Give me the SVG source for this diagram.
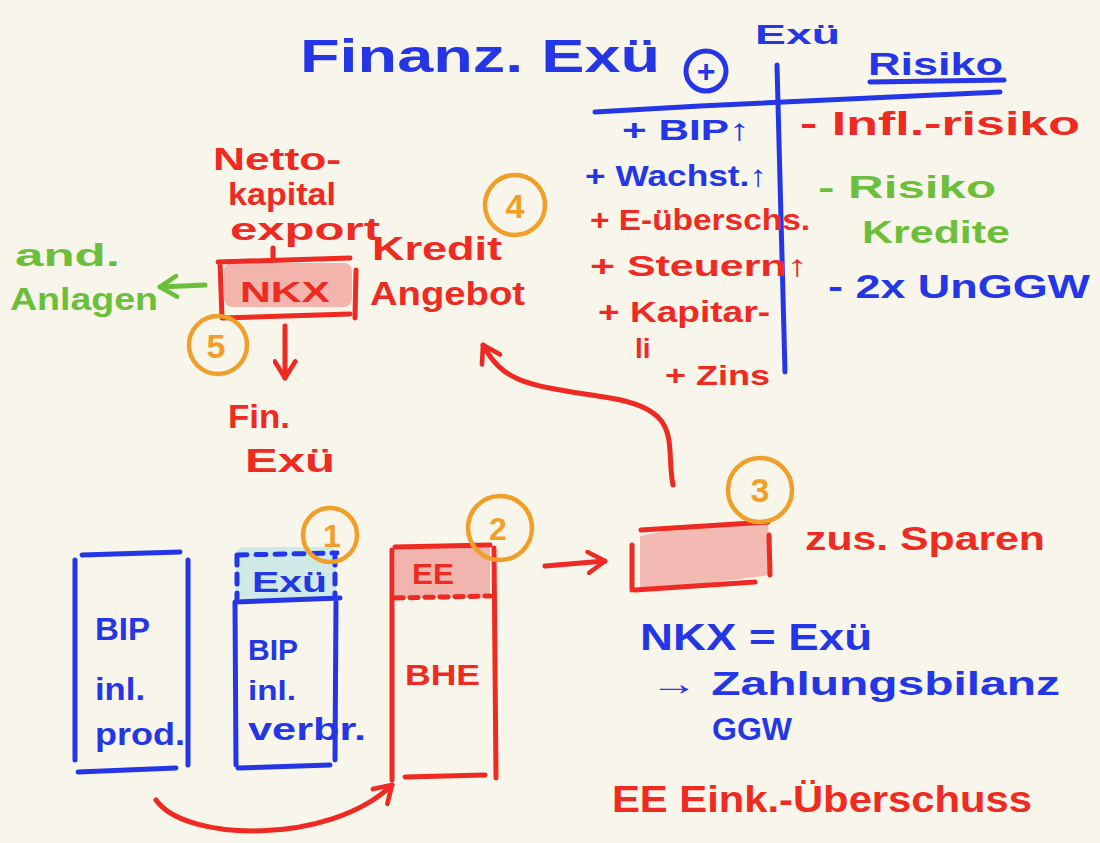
<svg xmlns="http://www.w3.org/2000/svg" width="1100" height="843" viewBox="0 0 1100 843">
<defs>
<style>
.t{font-family:"Liberation Sans",Arial,sans-serif;font-weight:bold}
.b{fill:#2436e6}.r{fill:#ee2a22}.g{fill:#6cbf3a}.o{fill:#f0a02a}
.sb{stroke:#2436e6;fill:none;stroke-width:5;stroke-linecap:round;stroke-linejoin:round}
.sr{stroke:#ee2a22;fill:none;stroke-width:5;stroke-linecap:round;stroke-linejoin:round}
.sg{stroke:#6cbf3a;fill:none;stroke-width:5;stroke-linecap:round;stroke-linejoin:round}
.so{stroke:#f0a02a;fill:none;stroke-width:4.5;stroke-linecap:round}
</style>
<marker id="ar" viewBox="0 0 12 12" refX="9" refY="6" markerWidth="5" markerHeight="5" orient="auto"><path d="M1,1 L9,6 L1,11" fill="none" stroke="#ee2a22" stroke-width="2.2" stroke-linecap="round" stroke-linejoin="round"/></marker>
<marker id="ag" viewBox="0 0 12 12" refX="9" refY="6" markerWidth="5" markerHeight="5" orient="auto"><path d="M1,1 L9,6 L1,11" fill="none" stroke="#6cbf3a" stroke-width="2.2" stroke-linecap="round" stroke-linejoin="round"/></marker>
</defs>
<rect width="1100" height="843" fill="#f8f5ea"/>

<g id="title">
<text class="t b" x="300" y="72" font-size="46" textLength="360" lengthAdjust="spacingAndGlyphs">Finanz. Exü</text>
<text class="t b" x="755" y="44" font-size="28" textLength="85" lengthAdjust="spacingAndGlyphs">Exü</text>
</g>

<g id="table">
<circle cx="706" cy="71" r="20" class="sb" stroke-width="4"/>
<text class="t b" x="706" y="82" font-size="32" text-anchor="middle">+</text>
<path class="sb" d="M595,112 L700,106 L1000,92"/>
<path class="sb" d="M777,65 L785,372"/>
<text class="t b" x="868" y="75" font-size="32" textLength="135" lengthAdjust="spacingAndGlyphs">Risiko</text>
<path class="sb" d="M870,82 L1004,80" stroke-width="4"/>
<text class="t b" x="622" y="140" font-size="30" textLength="128" lengthAdjust="spacingAndGlyphs">+ BIP↑</text>
<text class="t b" x="585" y="186" font-size="30" textLength="182" lengthAdjust="spacingAndGlyphs">+ Wachst.↑</text>
<text class="t r" x="590" y="230" font-size="30" textLength="220" lengthAdjust="spacingAndGlyphs">+ E-überschs.</text>
<text class="t r" x="590" y="276" font-size="30" textLength="218" lengthAdjust="spacingAndGlyphs">+ Steuern↑</text>
<text class="t r" x="598" y="322" font-size="30" textLength="172" lengthAdjust="spacingAndGlyphs">+ Kapitar-</text>
<text class="t r" x="635" y="358" font-size="28">li</text>
<text class="t r" x="665" y="385" font-size="28" textLength="105" lengthAdjust="spacingAndGlyphs">+ Zins</text>
<text class="t r" x="800" y="135" font-size="34" textLength="280" lengthAdjust="spacingAndGlyphs">- Infl.-risiko</text>
<text class="t g" x="818" y="198" font-size="32" textLength="178" lengthAdjust="spacingAndGlyphs">- Risiko</text>
<text class="t g" x="862" y="243" font-size="32" textLength="148" lengthAdjust="spacingAndGlyphs">Kredite</text>
<text class="t b" x="828" y="298" font-size="34" textLength="262" lengthAdjust="spacingAndGlyphs">- 2x UnGGW</text>
</g>

<g id="nkx">
<text class="t r" x="213" y="170" font-size="32" textLength="128" lengthAdjust="spacingAndGlyphs">Netto-</text>
<text class="t r" x="228" y="205" font-size="32" textLength="108" lengthAdjust="spacingAndGlyphs">kapital</text>
<text class="t r" x="230" y="240" font-size="32" textLength="150" lengthAdjust="spacingAndGlyphs">export</text>
<rect x="224" y="263" width="128" height="44" rx="8" fill="#f2a8a2" opacity="0.85"/>
<path class="sr" d="M218,262 L350,258 M220,262 L222,318 L350,314 M273,248 L273,260 M356,270 L355,318"/>
<text class="t r" x="285" y="302" font-size="30" text-anchor="middle" textLength="90" lengthAdjust="spacingAndGlyphs">NKX</text>
</g>

<g id="kredit">
<text class="t r" x="372" y="260" font-size="34" textLength="130" lengthAdjust="spacingAndGlyphs">Kredit</text>
<text class="t r" x="370" y="305" font-size="34" textLength="155" lengthAdjust="spacingAndGlyphs">Angebot</text>
</g>

<g id="andAnlagen">
<text class="t g" x="15" y="266" font-size="32" textLength="105" lengthAdjust="spacingAndGlyphs">and.</text>
<text class="t g" x="10" y="310" font-size="32" textLength="148" lengthAdjust="spacingAndGlyphs">Anlagen</text>
</g>

<g id="finExu">
<text class="t r" x="228" y="428" font-size="34" textLength="62" lengthAdjust="spacingAndGlyphs">Fin.</text>
<text class="t r" x="245" y="472" font-size="34" textLength="90" lengthAdjust="spacingAndGlyphs">Exü</text>
</g>

<g id="box1">
<path class="sb" d="M75,560 L75,760 M82,555 L180,552 M188,560 L188,765 M78,772 L176,768"/>
<text class="t b" x="95" y="640" font-size="32" textLength="55" lengthAdjust="spacingAndGlyphs">BIP</text>
<text class="t b" x="95" y="700" font-size="32" textLength="50" lengthAdjust="spacingAndGlyphs">inl.</text>
<text class="t b" x="95" y="745" font-size="32" textLength="90" lengthAdjust="spacingAndGlyphs">prod.</text>
</g>

<g id="box2">
<rect x="236" y="547" width="100" height="52" rx="8" fill="#cfe9e6"/>
<path class="sb" d="M237,555 L337,553 M237,555 L237,600 M335,555 L335,598" stroke-dasharray="10,9" stroke-width="4"/>
<path class="sb" d="M235,602 L340,598 M235,602 L236,765 M336,602 L335,760 M238,768 L330,765"/>
<text class="t b" x="252" y="592" font-size="30" textLength="75" lengthAdjust="spacingAndGlyphs">Exü</text>
<text class="t b" x="248" y="660" font-size="30" textLength="50" lengthAdjust="spacingAndGlyphs">BIP</text>
<text class="t b" x="248" y="700" font-size="28" textLength="48" lengthAdjust="spacingAndGlyphs">inl.</text>
<text class="t b" x="248" y="740" font-size="32" textLength="118" lengthAdjust="spacingAndGlyphs">verbr.</text>
</g>

<g id="box3">
<rect x="395" y="548" width="95" height="50" fill="#f2b4ae"/>
<path class="sr" d="M392,550 L392,780 M395,547 L490,545 M494,548 L496,778 M405,777 L485,775"/>
<path class="sr" d="M395,598 L490,596" stroke-dasharray="8,7" stroke-width="3.5"/>
<text class="t r" x="412" y="584" font-size="30" textLength="42" lengthAdjust="spacingAndGlyphs">EE</text>
<text class="t r" x="405" y="685" font-size="30" textLength="75" lengthAdjust="spacingAndGlyphs">BHE</text>
</g>

<g id="box4">
<path d="M640,536 Q700,522 768,520 L770,575 Q700,585 640,590 Z" fill="#f2b4ae" opacity="0.9"/>
<path class="sr" d="M641,530 L768,522 M632,545 L632,590 M635,590 L755,582 M769,535 L770,575"/>
<text class="t r" x="805" y="550" font-size="34" textLength="240" lengthAdjust="spacingAndGlyphs">zus. Sparen</text>
</g>

<g id="notes">
<text class="t b" x="640" y="650" font-size="36" textLength="232" lengthAdjust="spacingAndGlyphs">NKX = Exü</text>
<text class="t b" x="650" y="695" font-size="34" textLength="410" lengthAdjust="spacingAndGlyphs">→ Zahlungsbilanz</text>
<text class="t b" x="712" y="740" font-size="32" textLength="80" lengthAdjust="spacingAndGlyphs">GGW</text>
<text class="t r" x="612" y="812" font-size="36" textLength="420" lengthAdjust="spacingAndGlyphs">EE Eink.-Überschuss</text>
</g>

<g id="markers">
<circle cx="515" cy="205" r="30" class="so"/>
<text class="t o" x="515" y="218" font-size="34" text-anchor="middle">4</text>
<circle cx="218" cy="345" r="29" class="so"/>
<text class="t o" x="216" y="358" font-size="34" text-anchor="middle">5</text>
<circle cx="330" cy="535" r="27" class="so"/>
<text class="t o" x="332" y="547" font-size="32" text-anchor="middle">1</text>
<circle cx="500" cy="528" r="32" class="so"/>
<text class="t o" x="498" y="540" font-size="32" text-anchor="middle">2</text>
<circle cx="760" cy="490" r="32" class="so"/>
<text class="t o" x="760" y="502" font-size="34" text-anchor="middle">3</text>
</g>

<g id="connectors">
<path class="sr" d="M673,485 C665,445 685,410 610,398 C530,385 505,385 483,345" marker-end="url(#ar)"/>
<path class="sr" d="M285,326 L285,378" marker-end="url(#ar)"/>
<path class="sg" d="M205,285 L160,287" marker-end="url(#ag)"/>
<path class="sr" d="M545,566 L605,561" marker-end="url(#ar)"/>
<path class="sr" d="M156,800 C185,842 330,845 392,785" marker-end="url(#ar)"/>
</g>
</svg>
